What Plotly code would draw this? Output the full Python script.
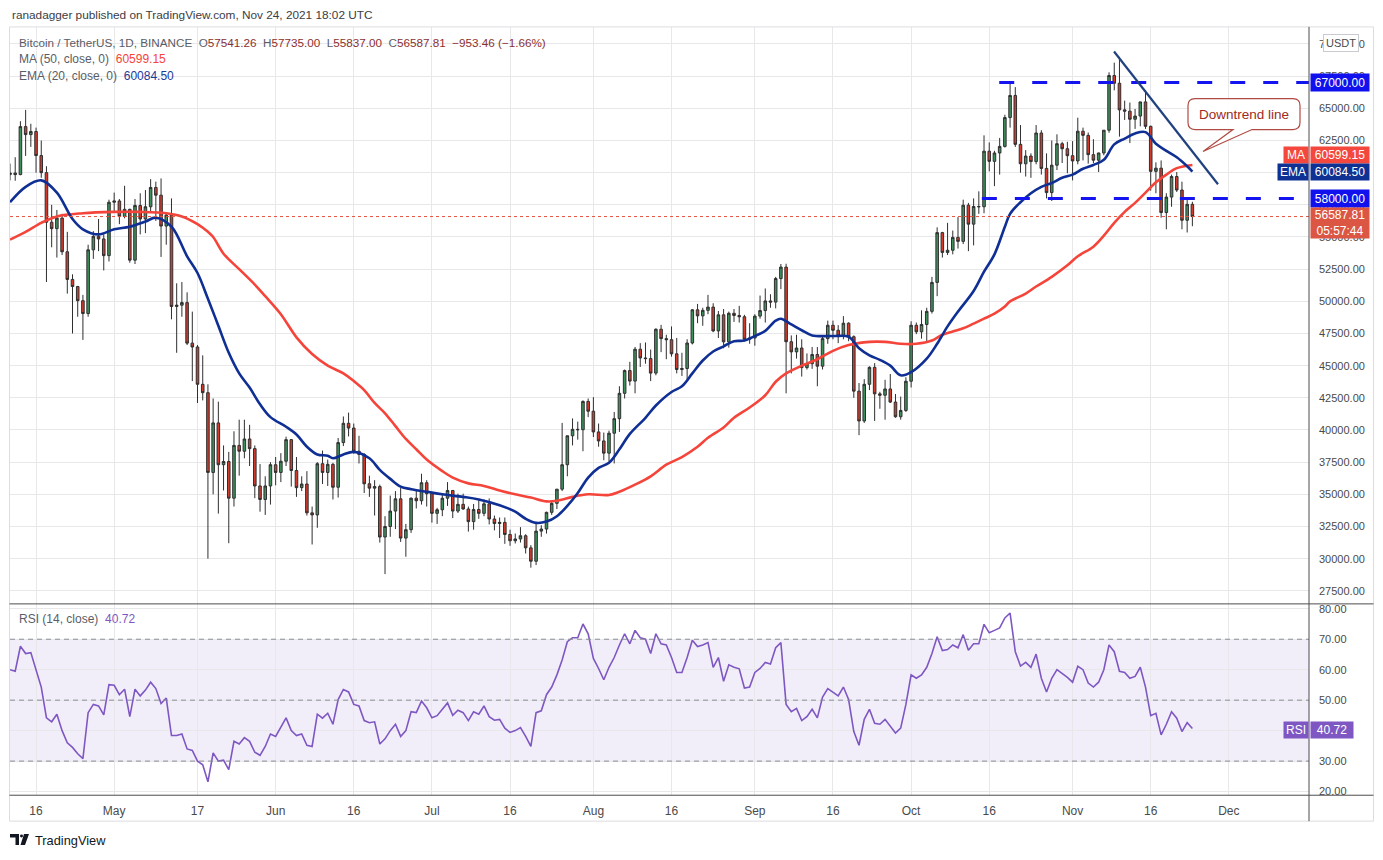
import pandas as pd
import plotly.graph_objects as go

# -- canvas size (px), used to place the paper-referenced bits
W, H = 1383, 860


def px(x):
    return x / W


def py(y):
    return 1 - y / H


# -- daily BTC/USDT candles, 2021-04-11 .. 2021-11-24
dates = pd.date_range('2021-04-11', '2021-11-24', freq='D')

open_px = [
    # apr
    59850, 59970, 59850, 63580, 62960, 63200, 61330, 60000, 56150, 55650, 56470, 53850, 51700, 51150, 50050,
    49050, 54000, 55050, 54850, 53550,
    # may
    57700, 57800, 56600, 57150, 53200, 57450, 56400, 57350, 58850, 58250, 55850, 56700, 49600, 49700, 49900,
    46750, 46450, 43550, 42900, 36700, 40550, 37300, 37550, 34700, 38800, 38350, 39300, 38550, 35650, 34600, 35650,
    # jun
    37300, 36700, 37570, 39250, 36850, 35520, 35800, 33560, 33400, 37380, 36700, 37330, 35550, 39020, 40520,
    40150, 38350, 38100, 35820, 35480, 35600, 31680, 32500, 33700, 34650, 31600, 32250, 34700, 34500, 35900,
    # jul
    35050, 33520, 33800, 34700, 35300, 33700, 34220, 33860, 32880, 33820, 33520, 34260, 33080, 32730, 32820,
    31880, 31390, 31530, 31780, 30840, 29800, 32140, 32300, 33600, 34300, 35400, 37300, 39550, 40050, 40020, 42220,
    # aug
    41460, 39850, 39150, 38200, 39750, 40880, 42850, 44620, 43800, 46280, 45600, 45550, 44420, 47830, 47100,
    47020, 45920, 44700, 44780, 46760, 49340, 48870, 49300, 49550, 47700, 48950, 46850, 49070, 48900, 48800, 47050,
    # sep
    47150, 48850, 49280, 50030, 49940, 51770, 52660, 46860, 46070, 46370, 44850, 45150, 45870, 44960, 47100,
    48140, 47750, 47300, 48300, 47250, 43020, 40700, 43550, 44870, 42810, 42700, 43190, 42170, 41030, 41520,
    # oct
    43790, 48140, 47630, 48200, 49220, 51470, 55340, 53800, 53970, 54970, 54660, 57470, 56000, 57370, 57350,
    61670, 60880, 61530, 62040, 64280, 66000, 62200, 60690, 61290, 60860, 63080, 60330, 58450, 60580, 62250, 61860,
    # nov
    61320, 60910, 63220, 62900, 61400, 60970, 61530, 63300, 67550, 66950, 64880, 64780, 64150, 64400, 65500,
    63600, 60100, 60350, 56900, 58100, 59700, 58650, 56300, 57541.26,
]
high_px = [
    60700, 61200, 64000, 64880, 63800, 63500, 62500, 60500, 57500, 57100, 56800, 55400, 52100, 51200, 50500,
    54400, 55450, 56400, 55200, 57900,
    58450, 57950, 58980, 57200, 57950, 58400, 58650, 59500, 59300, 59550, 56900, 58000, 51400, 51500, 50700,
    49200, 46600, 45800, 43550, 42450, 42200, 38800, 38300, 39900, 40800, 40800, 40400, 38800, 37350, 36400, 37500,
    37900, 38200, 39480, 39300, 37900, 36400, 36800, 34050, 37500, 38400, 37700, 37450, 39380, 41050, 41350,
    40500, 39550, 38200, 36450, 36100, 35750, 33300, 34900, 35250, 35500, 32700, 34750, 35300, 36600, 36100,
    35200, 33950, 34950, 35950, 35300, 35050, 35050, 34050, 34250, 34600, 34600, 34680, 33350, 33200, 33200,
    32250, 31950, 32450, 31900, 31050, 32850, 32600, 33650, 34500, 35400, 40550, 39550, 40900, 40650, 42300, 42450,
    42550, 40500, 39800, 39950, 41400, 43400, 44700, 45300, 46450, 46750, 46800, 46250, 47900, 48170, 47400,
    48050, 47150, 46000, 47050, 49400, 49800, 49500, 50500, 49850, 49250, 49400, 49200, 49400, 49650, 48950, 48300,
    49000, 50450, 51000, 50550, 51900, 52900, 52920, 47350, 47400, 47050, 45950, 46450, 46450, 47250, 48500,
    48500, 48150, 48850, 48370, 47350, 43650, 43950, 44950, 45200, 42970, 43900, 44350, 42800, 42600, 44100,
    48450, 48350, 49300, 49500, 51900, 55750, 55400, 56100, 55500, 56550, 57900, 57650, 58000, 58550, 62900,
    62350, 61700, 62700, 64500, 66950, 66650, 63700, 61750, 61500, 63700, 63300, 61500, 62500, 62980, 62400, 62400,
    62450, 64270, 63500, 63120, 62600, 61550, 63300, 67800, 68550, 69000, 65600, 65450, 64950, 65500, 66400,
    63650, 60800, 60950, 58400, 59850, 60050, 59300, 57900, 57735.00,
]
low_px = [
    59400, 59370, 59800, 61300, 62000, 60000, 59600, 51500, 54200, 53400, 53600, 50600, 47500, 48800, 47000,
    48800, 53300, 53900, 52400, 53100,
    57000, 56000, 56450, 53000, 52900, 55200, 55300, 56950, 56250, 53450, 54400, 48600, 46000, 48800, 46600,
    43800, 42100, 42300, 30000, 35000, 33500, 35300, 31200, 34050, 36450, 37800, 37200, 34700, 33650, 33400, 34200,
    35700, 35950, 37200, 35600, 34800, 35250, 33350, 31100, 32400, 35800, 35650, 34600, 34750, 38750, 39500,
    38150, 37400, 35100, 34800, 33350, 31250, 28800, 31700, 32300, 31300, 30150, 32000, 33900, 34200, 34050,
    32800, 32700, 33300, 34100, 33150, 33550, 33800, 32100, 32250, 33100, 33300, 32660, 32200, 31600, 31150,
    31000, 31180, 31250, 30400, 29300, 29500, 31700, 31950, 33400, 33850, 35250, 36400, 38800, 39250, 38350, 41000,
    39450, 38700, 37650, 37550, 37400, 39850, 42450, 43450, 42850, 44900, 45150, 43800, 44250, 46050, 45500,
    45700, 44400, 44200, 43950, 46650, 48300, 48100, 49000, 47600, 47150, 46350, 46400, 48400, 48350, 46880, 46700,
    46550, 48650, 48350, 49500, 49450, 50950, 42850, 44400, 45550, 44150, 44700, 44750, 43400, 44700, 46700,
    47050, 46750, 47050, 46900, 42500, 39600, 40550, 43100, 40700, 41650, 40800, 42100, 40950, 40800, 41400,
    43300, 47450, 47100, 46900, 49050, 50400, 53400, 53600, 53650, 54100, 54450, 53900, 54350, 56800, 56850,
    60100, 58950, 59850, 61950, 63500, 62000, 60000, 59700, 59600, 60650, 59850, 58000, 57800, 60200, 60750, 59950,
    59400, 60650, 60950, 60700, 60750, 60050, 61350, 63100, 66400, 62800, 64100, 62300, 63400, 63600, 63400,
    58600, 58400, 56500, 55600, 57350, 58500, 55600, 55350, 55837.00,
]
close_px = [
    59970, 59850, 63580, 62960, 63200, 61330, 60000, 56150, 55650, 56470, 53850, 51700, 51150, 50050, 49050,
    54000, 55050, 54850, 53550, 57700,
    57800, 56600, 57150, 53200, 57450, 56400, 57350, 58850, 58250, 55850, 56700, 49600, 49700, 49900, 46750,
    46450, 43550, 42900, 36700, 40550, 37300, 37550, 34700, 38800, 38350, 39300, 38550, 35650, 34600, 35650, 37300,
    36700, 37570, 39250, 36850, 35520, 35800, 33560, 33400, 37380, 36700, 37330, 35550, 39020, 40520, 40150,
    38350, 38100, 35820, 35480, 35600, 31680, 32500, 33700, 34650, 31600, 32250, 34700, 34500, 35900, 35050,
    33520, 33800, 34700, 35300, 33700, 34220, 33860, 32880, 33820, 33520, 34260, 33080, 32730, 32820, 31880,
    31390, 31530, 31780, 30840, 29800, 32140, 32300, 33600, 34300, 35400, 37300, 39550, 40050, 40020, 42220, 41460,
    39850, 39150, 38200, 39750, 40880, 42850, 44620, 43800, 46280, 45600, 45550, 44420, 47830, 47100, 47020,
    45920, 44700, 44780, 46760, 49340, 48870, 49300, 49550, 47700, 48950, 46850, 49070, 48900, 48800, 47050, 47150,
    48850, 49280, 50030, 49940, 51770, 52660, 46860, 46070, 46370, 44850, 45150, 45870, 44960, 47100, 48140,
    47750, 47300, 48300, 47250, 43020, 40700, 43550, 44870, 42810, 42700, 43190, 42170, 41030, 41520, 43790,
    48140, 47630, 48200, 49220, 51470, 55340, 53800, 53970, 54970, 54660, 57470, 56000, 57370, 57350, 61670,
    60880, 61530, 62040, 64280, 66000, 62200, 60690, 61290, 60860, 63080, 60330, 58450, 60580, 62250, 61860, 61320,
    60910, 63220, 62900, 61400, 60970, 61530, 63300, 67550, 66950, 64880, 64780, 64150, 64400, 65500, 63600,
    60100, 60350, 56900, 58100, 59700, 58650, 56300, 57540, 56587.81,
]

# -- RSI(14) per day
rsi_vals = [
    60.0, 59.5, 67.7, 65.3, 65.6, 59.5, 54.3, 44.2, 42.9, 45.4, 40.0, 36.0, 34.5, 32.4, 30.8, 45.9, 48.6, 48.1,
    45.2, 55.1,
    54.9, 51.8, 53.6, 44.6, 53.6, 51.4, 53.3, 55.9, 53.8, 48.9, 50.7, 38.4, 38.4, 38.9, 34.0, 33.5, 30.0, 28.8,
    23.2, 32.7, 30.0, 30.3, 27.2, 36.5, 35.6, 37.7, 36.5, 32.9, 31.9, 34.8, 38.9,
    38.1, 41.0, 44.2, 40.0, 38.4, 38.9, 35.2, 34.8, 45.4, 44.1, 45.7, 42.1, 50.2, 53.5, 52.7, 48.6, 48.1, 43.3,
    42.6, 42.9, 35.6, 37.3, 40.0, 42.1, 38.1, 40.0, 46.2, 45.9, 49.7, 47.5,
    44.2, 44.9, 47.0, 49.1, 45.0, 46.7, 45.9, 43.3, 46.2, 45.4, 48.1, 44.6, 43.4, 43.7, 40.8, 39.4, 40.0, 41.0,
    38.1, 34.8, 45.9, 46.5, 51.8, 54.3, 58.3, 63.2, 69.2, 70.5, 70.5, 75.0, 71.8,
    63.7, 60.4, 56.7, 60.8, 64.0, 68.1, 71.8, 68.5, 72.9, 70.5, 70.0, 65.3, 71.8, 68.5, 68.1, 64.0, 59.1, 59.1,
    64.0, 69.7, 67.6, 68.1, 68.9, 60.8, 64.0, 56.2, 61.6, 60.8, 60.3, 54.0, 54.3,
    59.1, 60.4, 62.4, 61.9, 67.2, 68.9, 48.6, 46.2, 47.3, 43.3, 44.6, 47.0, 44.2, 51.0, 53.8, 52.7, 51.4, 54.3,
    50.2, 39.7, 35.2, 43.7, 47.0, 42.4, 42.1, 43.7, 41.6, 39.2, 40.8, 48.6,
    58.3, 57.2, 58.3, 60.8, 65.3, 70.8, 66.3, 66.6, 68.1, 67.2, 71.5, 66.4, 68.5, 68.5, 74.9, 72.1, 72.9, 73.7,
    77.0, 78.6, 65.9, 61.2, 62.4, 60.8, 65.1, 57.2, 52.7, 57.2, 60.0, 58.8, 57.5,
    55.9, 61.1, 60.0, 55.6, 54.3, 55.9, 60.0, 68.1, 65.9, 59.5, 59.1, 57.2, 57.8, 60.8, 54.3, 44.9, 45.7, 38.6,
    42.1, 46.2, 44.1, 39.7, 42.6, 40.72,
]

# -- EMA(20) line, sampled off the chart
ema_dates = [
    '2021-04-11', '2021-04-14', '2021-04-17', '2021-04-20', '2021-04-23', '2021-04-25', '2021-04-28', '2021-05-01',
    '2021-05-04', '2021-05-07', '2021-05-09', '2021-05-12', '2021-05-15', '2021-05-17', '2021-05-19', '2021-05-21',
    '2021-05-23', '2021-05-25', '2021-05-27', '2021-05-29', '2021-05-31', '2021-06-03', '2021-06-05', '2021-06-07',
    '2021-06-09', '2021-06-11', '2021-06-12', '2021-06-14', '2021-06-16', '2021-06-19', '2021-06-21', '2021-06-23',
    '2021-06-25', '2021-06-27', '2021-06-30', '2021-07-03', '2021-07-07', '2021-07-10', '2021-07-14', '2021-07-17',
    '2021-07-19', '2021-07-21', '2021-07-23', '2021-07-25', '2021-07-27', '2021-07-29', '2021-07-31', '2021-08-02',
    '2021-08-04', '2021-08-06', '2021-08-08', '2021-08-11', '2021-08-13', '2021-08-16', '2021-08-18', '2021-08-20',
    '2021-08-22', '2021-08-24', '2021-08-26', '2021-08-28', '2021-08-30', '2021-09-01', '2021-09-03', '2021-09-05',
    '2021-09-06', '2021-09-08', '2021-09-10', '2021-09-12', '2021-09-16', '2021-09-19', '2021-09-21', '2021-09-23',
    '2021-09-25', '2021-09-27', '2021-09-29', '2021-10-01', '2021-10-04', '2021-10-06', '2021-10-08', '2021-10-10',
    '2021-10-13', '2021-10-15', '2021-10-17', '2021-10-19', '2021-10-20', '2021-10-22', '2021-10-24', '2021-10-26',
    '2021-10-28', '2021-10-30', '2021-11-01', '2021-11-03', '2021-11-05', '2021-11-07', '2021-11-09', '2021-11-11',
    '2021-11-13', '2021-11-15', '2021-11-17', '2021-11-19', '2021-11-21', '2021-11-23', '2021-11-24',
]
ema_vals = [
    57700, 58900, 59400, 58450, 56400, 55600, 55200, 55600,
    55800, 56200, 56500, 55800, 53500, 52200, 50200, 48100,
    46000, 44400, 43300, 42000, 41000, 40250, 39650, 38700,
    38100, 38000, 37800, 38100, 38300, 37800, 36900, 36200,
    35600, 35400, 35200, 35000, 34800, 34600, 34150, 33650,
    33100, 32780, 32880, 33300, 34100, 35100, 36300, 37050,
    37450, 38500, 39700, 40950, 41900, 42950, 43400, 44400,
    45400, 46100, 46500, 46900, 46950, 47300, 47700, 48500,
    48650, 48200, 47750, 47350, 47300, 47250, 46350, 45800,
    45450, 45000, 44250, 44500, 45550, 46700, 48050, 49200,
    50800, 52300, 53650, 55800, 56800, 57700, 58400, 58900,
    59200, 59600, 59850, 60300, 60600, 61000, 62200, 62650,
    63050, 63150, 62250, 61700, 61200, 60500, 60084.50,
]

# -- MA(50) line, sampled off the chart
ma_dates = [
    '2021-04-11', '2021-04-14', '2021-04-17', '2021-04-20', '2021-04-25', '2021-05-01', '2021-05-06', '2021-05-11',
    '2021-05-14', '2021-05-17', '2021-05-19', '2021-05-20', '2021-05-22', '2021-05-25', '2021-05-28', '2021-05-30',
    '2021-06-02', '2021-06-05', '2021-06-08', '2021-06-11', '2021-06-14', '2021-06-16', '2021-06-18', '2021-06-20',
    '2021-06-22', '2021-06-24', '2021-06-26', '2021-06-28', '2021-06-30', '2021-07-03', '2021-07-05', '2021-07-08',
    '2021-07-11', '2021-07-14', '2021-07-17', '2021-07-20', '2021-07-23', '2021-07-25', '2021-07-28', '2021-07-31',
    '2021-08-04', '2021-08-06', '2021-08-09', '2021-08-12', '2021-08-15', '2021-08-18', '2021-08-21', '2021-08-23',
    '2021-08-26', '2021-08-28', '2021-08-31', '2021-09-03', '2021-09-05', '2021-09-07', '2021-09-10', '2021-09-13',
    '2021-09-16', '2021-09-19', '2021-09-23', '2021-09-26', '2021-09-29', '2021-10-02', '2021-10-05', '2021-10-07',
    '2021-10-09', '2021-10-11', '2021-10-13', '2021-10-15', '2021-10-17', '2021-10-19', '2021-10-20', '2021-10-23',
    '2021-10-25', '2021-10-28', '2021-10-31', '2021-11-02', '2021-11-05', '2021-11-07', '2021-11-09', '2021-11-11',
    '2021-11-13', '2021-11-15', '2021-11-17', '2021-11-19', '2021-11-21', '2021-11-24',
]
ma_vals = [
    54800, 55400, 56100, 56600, 56850, 56950, 56950, 56850,
    56600, 56000, 55400, 55000, 53700, 52500, 51300, 50400,
    49000, 47200, 45900, 45000, 44400, 43800, 43100, 42100,
    41300, 40300, 39300, 38500, 37700, 36800, 36300, 35850,
    35650, 35300, 35000, 34750, 34450, 34500, 34800, 35000,
    34950, 35200, 35750, 36400, 37300, 37900, 38700, 39400,
    40200, 40950, 41750, 42700, 43750, 44400, 45000, 45500,
    46150, 46600, 46850, 46850, 46700, 46700, 46950, 47400,
    47650, 47900, 48270, 48650, 49040, 49600, 50000, 50600,
    51150, 51900, 52800, 53500, 54250, 55100, 56100, 56950,
    57650, 58450, 59250, 59850, 60350, 60599.15,
]

# -- drawn levels and the trend line
levels = [67000, 58000]
level_start = ['2021-10-17 22:00', '2021-10-14 14:00']
level_end = ['2021-12-16 09:00', '2021-12-13 22:00']
trend_dates = ['2021-11-08 23:00', '2021-11-28 22:00']
trend_prices = [69420, 59100]
last_price = 56587.81

# -- axis ticks
price_ticks = list(range(27500, 70001, 2500))
price_text = ['' if v == 60000 else f'{v:.2f}' for v in price_ticks]  # 60000 sits under the MA/EMA flags
rsi_ticks = [20, 30, 40, 50, 60, 70, 80]
tick_dates = ['2021-04-16', '2021-05-01', '2021-05-17', '2021-06-01', '2021-06-16', '2021-07-01', '2021-07-16',
              '2021-08-01', '2021-08-16', '2021-09-01', '2021-09-16', '2021-10-01', '2021-10-16', '2021-11-01',
              '2021-11-16', '2021-12-01']
tick_text = ['16', 'May', '17', 'Jun', '16', 'Jul', '16', 'Aug', '16', 'Sep', '16', 'Oct', '16', 'Nov', '16', 'Dec']

FONT = 'Liberation Sans, Arial, sans-serif'
GRID = '#e8e8eb'
AXLINE = '#4d4d4d'

fig = go.Figure()

fig.add_trace(go.Candlestick(
    x=dates, open=open_px, high=high_px, low=low_px, close=close_px,
    increasing=dict(line=dict(color='#2f2f2f', width=1), fillcolor='#3f8f5d'),
    decreasing=dict(line=dict(color='#2f2f2f', width=1), fillcolor='#cf3b2d'),
    whiskerwidth=0, showlegend=False, hoverinfo='skip', xaxis='x', yaxis='y'))

fig.add_trace(go.Scatter(x=ma_dates, y=ma_vals, mode='lines', line=dict(color='#f5443a', width=2.6, shape='spline'),
                         showlegend=False, hoverinfo='skip', xaxis='x', yaxis='y'))
fig.add_trace(go.Scatter(x=ema_dates, y=ema_vals, mode='lines', line=dict(color='#0f2f94', width=2.6, shape='spline'),
                         showlegend=False, hoverinfo='skip', xaxis='x', yaxis='y'))

fig.add_trace(go.Scatter(x=dates, y=rsi_vals, mode='lines', line=dict(color='#7e57c2', width=1.6),
                         showlegend=False, hoverinfo='skip', xaxis='x2', yaxis='y2'))

X0, X1 = 10, 1309
xrange = ['2021-04-11 00:00', '2021-12-16 09:20']

fig.update_layout(
    width=W, height=H, margin=dict(l=0, r=0, t=0, b=0),
    paper_bgcolor='white', plot_bgcolor='white',
    hovermode=False, font=dict(family=FONT, size=11, color='#4a4a4a'),
    xaxis=dict(domain=[px(X0), px(X1)], range=xrange, type='date', anchor='y',
               tickvals=tick_dates, showticklabels=False, showgrid=True, gridcolor=GRID,
               zeroline=False, rangeslider=dict(visible=False), fixedrange=True),
    yaxis=dict(domain=[py(605), py(26)], range=[26484, 71328], side='right', anchor='x',
               tickvals=price_ticks, ticktext=price_text, ticks='',
               ticklabelstandoff=9, showgrid=True, gridcolor=GRID, zeroline=False,
               tickfont=dict(size=11, color='#4a4a4a')),
    xaxis2=dict(domain=[px(X0), px(X1)], range=xrange, type='date', anchor='y2', matches='x',
                tickvals=tick_dates, ticktext=tick_text, showgrid=True, gridcolor=GRID, zeroline=False,
                ticks='', ticklabelstandoff=7, tickfont=dict(size=12, color='#4a4a4a')),
    yaxis2=dict(domain=[py(797), py(605)], range=[18.8, 81.6], side='right', anchor='x2',
                tickvals=rsi_ticks, tickformat='.2f', ticks='',
                ticklabelstandoff=9, showgrid=True, gridcolor=GRID, zeroline=False,
                tickfont=dict(size=11, color='#4a4a4a')),
)

shapes = []

# rsi band and its dashed bounds
shapes.append(dict(type='rect', xref='paper', yref='y2', x0=px(X0), x1=px(X1), y0=30, y1=70,
                   fillcolor='rgba(126,87,194,0.10)', line=dict(width=0), layer='below'))
for lv in [70, 50, 30]:
    shapes.append(dict(type='line', xref='paper', yref='y2', x0=px(X0), x1=px(X1), y0=lv, y1=lv,
                       line=dict(color='#8a8d96', width=1, dash='5px,4px')))

# current price dotted line
shapes.append(dict(type='line', xref='paper', yref='y', x0=px(X0), x1=px(X1), y0=last_price, y1=last_price,
                   line=dict(color='#e0533f', width=1, dash='dot')))

# horizontal levels
for lv, s, e in zip(levels, level_start, level_end):
    shapes.append(dict(type='line', xref='x', yref='y', x0=s, x1=e, y0=lv, y1=lv,
                       line=dict(color='#1414f0', width=3, dash='15px,18px')))

# downtrend line
shapes.append(dict(type='line', xref='x', yref='y', x0=trend_dates[0], x1=trend_dates[1],
                   y0=trend_prices[0], y1=trend_prices[1], line=dict(color='#21427f', width=2.2)))


def P(x, y):
    return f'{px(x):.5f},{py(y):.5f}'


# callout bubble
bubble = ('M ' + P(1195, 98) + ' L ' + P(1293, 98) + ' Q ' + P(1300, 98) + ' ' + P(1300, 105) +
          ' L ' + P(1300, 122) + ' Q ' + P(1300, 129) + ' ' + P(1293, 129) +
          ' L ' + P(1252, 129) + ' L ' + P(1203, 151) + ' L ' + P(1233, 129) +
          ' L ' + P(1195, 129) + ' Q ' + P(1188, 129) + ' ' + P(1188, 122) +
          ' L ' + P(1188, 105) + ' Q ' + P(1188, 98) + ' ' + P(1195, 98) + ' Z')
shapes.append(dict(type='path', xref='paper', yref='paper', path=bubble,
                   fillcolor='rgba(255,255,255,0.92)', line=dict(color='#b04a42', width=1.2)))

# frame lines
shapes.append(dict(type='rect', xref='paper', yref='paper', x0=px(9.5), x1=px(1373.5), y0=py(823), y1=py(26),
                   line=dict(color='#dcdde2', width=1)))
shapes.append(dict(type='line', xref='paper', yref='paper', x0=px(X1), x1=px(X1), y0=py(823), y1=py(26),
                   line=dict(color=AXLINE, width=1)))
shapes.append(dict(type='line', xref='paper', yref='paper', x0=px(9.5), x1=px(1373.5), y0=py(605), y1=py(605),
                   line=dict(color=AXLINE, width=1)))
shapes.append(dict(type='line', xref='paper', yref='paper', x0=px(9.5), x1=px(1373.5), y0=py(797), y1=py(797),
                   line=dict(color=AXLINE, width=1)))

# tradingview logo
logo_t = 'M ' + P(10, 836) + ' L ' + P(19, 836) + ' L ' + P(19, 847) + ' L ' + P(15.5, 847) + \
         ' L ' + P(15.5, 839.5) + ' L ' + P(10, 839.5) + ' Z'
logo_7 = 'M ' + P(24, 836) + ' L ' + P(29, 836) + ' L ' + P(25, 847) + ' L ' + P(20.5, 847) + ' Z'
shapes.append(dict(type='path', xref='paper', yref='paper', path=logo_t, fillcolor='#131722', line=dict(width=0)))
shapes.append(dict(type='path', xref='paper', yref='paper', path=logo_7, fillcolor='#131722', line=dict(width=0)))
shapes.append(dict(type='circle', xref='paper', yref='paper', x0=px(20), x1=px(23), y0=py(839.5), y1=py(836.5),
                   fillcolor='#131722', line=dict(width=0)))

fig.update_layout(shapes=shapes)

ann = []


def text(x, y, s, size=12, color='#4a4a4a', anchor='left'):
    ann.append(dict(xref='paper', yref='paper', x=px(x), y=py(y), text=s, showarrow=False,
                    xanchor=anchor, yanchor='middle', font=dict(family=FONT, size=size, color=color)))


def box(x0, x1, yc, h, s, bg, color='white', size=12):
    ann.append(dict(xref='paper', yref='paper', x=px(x0), y=py(yc), text=s, showarrow=False,
                    xanchor='left', yanchor='middle', width=x1 - x0, height=h, bgcolor=bg, borderpad=0,
                    align='center', font=dict(family=FONT, size=size, color=color)))


NB = '\u00a0'
VAL = '#8b3030'
text(10, 14, 'ranadagger published on TradingView.com, Nov 24, 2021 18:02 UTC', size=11.8, color='#3a3d45')
text(17, 42, 'Bitcoin / TetherUS, 1D, BINANCE' + NB * 2 +
     f'O<span style="color:{VAL}">57541.26</span>' + NB * 2 +
     f'H<span style="color:{VAL}">57735.00</span>' + NB * 2 +
     f'L<span style="color:{VAL}">55837.00</span>' + NB * 2 +
     f'C<span style="color:{VAL}">56587.81</span>' + NB * 2 +
     f'<span style="color:{VAL}">\u2212953.46 (\u22121.66%)</span>', size=11.7, color='#5a5d66')
text(17, 58.5, 'MA (50, close, 0)' + NB * 2 + '<span style="color:#f5443a">60599.15</span>', size=12,
     color='#5a5d66')
text(17, 75.5, 'EMA (20, close, 0)' + NB * 2 + '<span style="color:#1a3a9a">60084.50</span>', size=12,
     color='#5a5d66')
text(17, 620, 'RSI (14, close)' + NB * 2 + '<span style="color:#7e57c2">40.72</span>', size=12, color='#5a5d66')
text(33, 842, 'TradingView', size=12.8, color='#131722')

# callout text
text(1244, 113.5, 'Downtrend line', size=13.5, color='#9e2b22', anchor='center')

# right axis flags
ann.append(dict(xref='paper', yref='paper', x=px(1341), y=py(42), text='USDT', showarrow=False,
                xanchor='center', yanchor='middle', bgcolor='white', bordercolor='#c9cbd1', borderwidth=1,
                borderpad=2, font=dict(family=FONT, size=11, color='#4a4a4a')))
box(1310, 1368, 82, 17, '67000.00', '#1111ee')
box(1310, 1368, 198.5, 17, '58000.00', '#1111ee')
box(1283, 1307, 155, 16, 'MA', '#f4473d')
box(1310, 1368, 155, 16, '60599.15', '#f4473d')
box(1277, 1307, 171.5, 16, 'EMA', '#0e3193')
box(1310, 1368, 171.5, 16, '60084.50', '#0e3193')
box(1310, 1368, 223, 30, '56587.81<br>05:57:44', '#dc5644')
box(1283, 1307, 731.5, 16, 'RSI', '#7e57c2')
box(1310, 1352, 731.5, 16, '40.72', '#7e57c2')

fig.update_layout(annotations=ann)

fig.write_html('out.html', config={'displayModeBar': False},
               post_script="document.body.style.margin='0';document.body.style.overflow='hidden';")
